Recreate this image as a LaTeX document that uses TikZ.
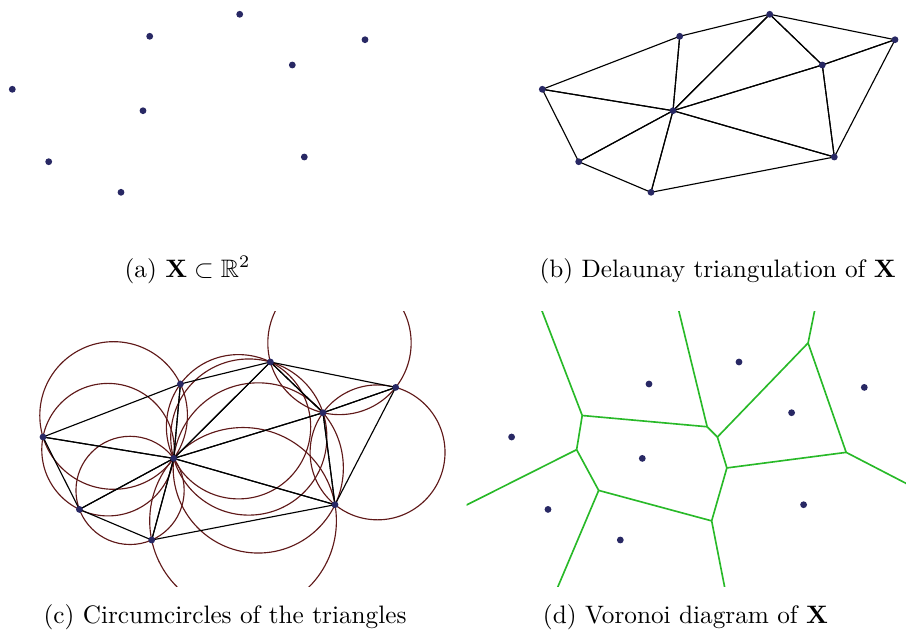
\documentclass[tikz,border=0pt]{standalone}
\usepackage{amsmath,amssymb}
\usetikzlibrary{calc}

\definecolor{sitecol}{RGB}{40,40,100}
\definecolor{circcol}{RGB}{95,25,25}
\definecolor{vorcol}{RGB}{40,185,40}

\newcommand{\placepts}{%
  \foreach \n/\px/\py in {A/239.7/14.3,B/149.7/36.3,C/365/39.7,D/292.3/65,E/12.3/89.3,
    F/143/110.7,G/48.7/161.7,H/304.3/157,I/121/192.3}
    \coordinate (\n) at (\px,\py);}
\newcommand{\drawpts}{%
  \foreach \n in {A,B,C,D,E,F,G,H,I} \fill[site] (\n) circle (1.35pt);}
\newcommand{\trilist}{E/B/F,E/F/G,F/I/G,F/H/I,D/H/F,A/D/F,B/A/F,A/C/D,D/C/H}
\newcommand{\cclist}{82.92/67.79/73.82,77.33/101.96/66.25,99.37/142.70/54.11,
  212.36/173.17/93.35,227.56/120.23/85.10,218.11/89.34/78.08,
  207.84/79.04/72.15,308.78/-4.74/71.66,346.86/104.67/67.45}
\newcommand{\placecenters}{%
  \foreach \cx/\cy/\rad [count=\k] in \cclist \coordinate (V\k) at (\cx,\cy);}

\begin{document}
\begin{tikzpicture}[x=0.3962pt,y=-0.3962pt,
  site/.style={fill=sitecol},
  deledge/.style={draw=black,line width=0.45pt},
  ccirc/.style={draw=circcol,line width=0.45pt},
  vor/.style={draw=vorcol,line width=0.65pt},
  subcap/.style={anchor=base,inner sep=0pt}]
\useasboundingbox (0,0) rectangle (906,630);

% (a) the point set
\begin{scope}
  \placepts
  \drawpts
\end{scope}
\node[subcap] (capa) at (187.5,277) {(a) $\mathbf{X}\subset\mathbb{R}^2$};

% (b) triangulation
\begin{scope}[shift={(530,0)}]
  \placepts
  \foreach \a/\b/\c in \trilist \draw[deledge] (\a) -- (\b) -- (\c) -- cycle;
  \drawpts
\end{scope}
\node[subcap] (capb) at (717.7,277) {(b) Delaunay triangulation of $\mathbf{X}$};

% (c) circumcircles
\begin{scope}[shift={(30.7,347.7)}]
  \clip (-40,-36.7) rectangle (450,239);
  \placepts
  \placecenters
  \foreach \cx/\cy/\rad [count=\k] in \cclist \draw[ccirc] (V\k) circle (\rad);
  \foreach \a/\b/\c in \trilist \draw[deledge] (\a) -- (\b) -- (\c) -- cycle;
  \drawpts
\end{scope}
\node[subcap] (capc) at (225,623) {(c) Circumcircles of the triangles};

% (d) voronoi cells
\begin{scope}[shift={(499.3,347.7)}]
  \clip (-32.6,-36.7) rectangle (406.7,239);
  \placepts
  \placecenters
  \foreach \u/\v in {1/2,1/7,7/6,6/8,8/9,9/5,6/5,5/4,4/3,3/2}
    \draw[vor] (V\u) -- (V\v);
  \foreach \k/\a/\b/\d in {1/E/B/120pt,7/B/A/120pt,8/A/C/-120pt,9/C/H/-120pt,
      4/H/I/120pt,3/I/G/120pt,2/G/E/120pt} {
    \coordinate (m\k) at ($(\a)!.5!(\b)$);
    \coordinate (r\k) at ($(V\k)!\d!(m\k)$);
    \draw[vor] (V\k) -- (r\k);
  }
  \drawpts
\end{scope}
\node[subcap] (capd) at (685.5,623) {(d) Voronoi diagram of $\mathbf{X}$};
\end{tikzpicture}
\end{document}
